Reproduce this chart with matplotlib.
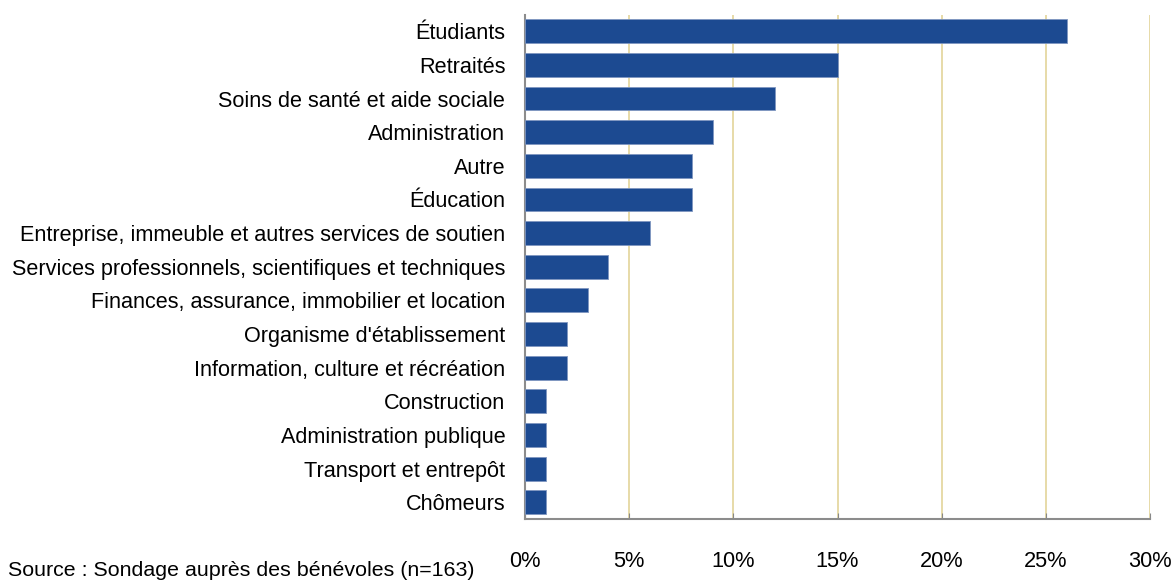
import matplotlib.pyplot as plt
import numpy as np

plt.rcParams['font.family'] = ['Liberation Sans', 'DejaVu Sans']

categories = ["Étudiants", "Retraités", "Soins de santé et aide sociale", "Administration",
              "Autre", "Éducation", "Entreprise, immeuble et autres services de soutien",
              "Services professionnels, scientifiques et techniques",
              "Finances, assurance, immobilier et location", "Organisme d'établissement",
              "Information, culture et récréation", "Construction", "Administration publique",
              "Transport et entrepôt", "Chômeurs"]
values = [26, 15, 12, 9, 8, 8, 6, 4, 3, 2, 2, 1, 1, 1, 1]
xticks = [0, 5, 10, 15, 20, 25, 30]

fig = plt.figure(figsize=(11.74, 5.8), dpi=100)
ax = fig.add_axes([0.4472, 0.105, 0.5324, 0.869])

y = np.arange(len(categories))
ax.barh(y, values, height=0.71, color='#1C4A91', edgecolor='#7f96c0', linewidth=0.6, zorder=3)
ax.set_xlim(0, 30)
ax.set_ylim(len(categories) - 0.5, -0.48)
ax.set_xticks(xticks)
ax.set_xticklabels([f"{t}%" for t in xticks], fontsize=15.7)
ax.set_yticks(y)
ax.set_yticklabels(categories, fontsize=15.6)
ax.tick_params(axis='y', length=0, pad=14.2)
ax.tick_params(axis='x', direction='in', length=4, color='#888888', pad=23)
ax.xaxis.grid(True, color='#E3D49A', linewidth=1.2, zorder=0)

for s in ['top', 'right']:
    ax.spines[s].set_visible(False)
for s in ['left', 'bottom']:
    ax.spines[s].set_color('#8c8c8c')
    ax.spines[s].set_linewidth(1.5)

fig.text(0.007, 0.0, "Source : Sondage auprès des bénévoles (n=163)", fontsize=15.4, ha='left', va='bottom')

fig.savefig('out.png', dpi=100)
